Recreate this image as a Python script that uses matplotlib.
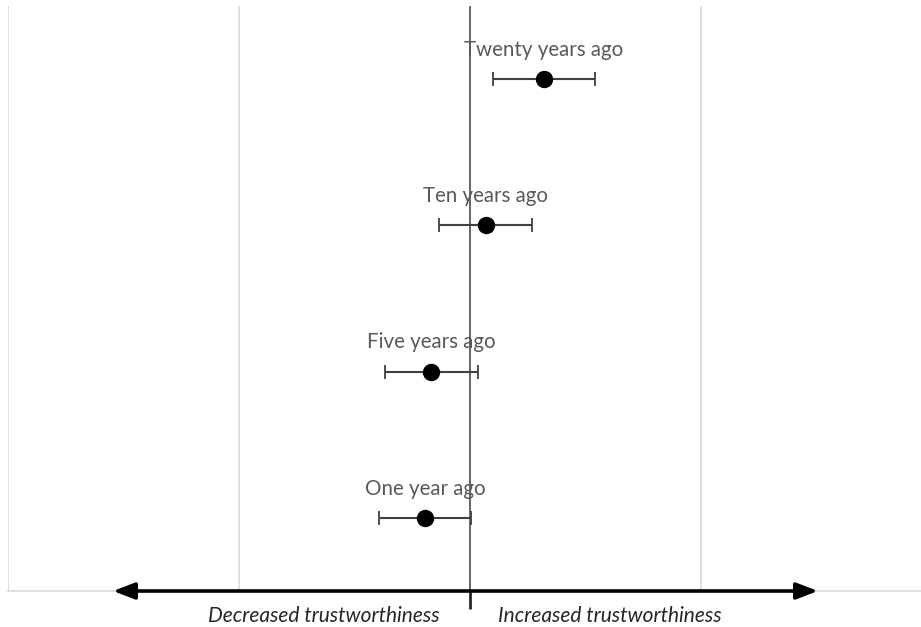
import matplotlib
matplotlib.use("Agg")
import matplotlib.pyplot as plt

# ── Data ───────────────────────────────────────────────────────────────────────
labels = ["Twenty years ago", "Ten years ago", "Five years ago", "One year ago"]
positions = [4, 3, 2, 1]
estimates = [0.32, 0.069, -0.169, -0.195]
ci_low = [0.10, -0.134, -0.368, -0.394]
ci_high = [0.541, 0.268, 0.035, 0.004]

FONT = "Lato"
C_TEXT = "#595959"
C_GRID = "#d9d9d9"

fig = plt.figure(figsize=(9.21, 6.27), dpi=100)
ax = fig.add_axes([8 / 921, 36 / 627, 924 / 921, 585 / 627])
ax.set_xlim(-2, 2)
ax.set_ylim(0.5, 4.5)

for s in ["top", "right", "left"]:
    ax.spines[s].set_visible(False)
ax.spines["bottom"].set_color(C_GRID)
ax.spines["bottom"].set_linewidth(1.2)

for gx in [-2, -1, 1, 2]:
    ax.axvline(gx, color=C_GRID, lw=1.2, zorder=1)
ax.axvline(0, color="#595959", lw=1.3, zorder=2)

ax.set_yticks([])
ax.set_xticks([0])
ax.set_xticklabels([""])
ax.tick_params(axis="x", direction="out", length=13, width=2, color="#262626")

# error bars + points
xerr = [[e - lo for e, lo in zip(estimates, ci_low)],
        [hi - e for e, hi in zip(estimates, ci_high)]]
ax.errorbar(estimates, positions, xerr=xerr, fmt="none", ecolor="#404040",
            elinewidth=1.5, capsize=5, capthick=1.3, zorder=3)
ax.plot(estimates, positions, "o", color="black", markersize=11.5, zorder=4)

# labels sit under the centre line, as in the original
for lab, x, y in zip(labels, estimates, positions):
    ax.annotate(lab, (x, y), xytext=(0, 21), textcoords="offset points",
                ha="center", va="center", fontsize=14.8, color=C_TEXT,
                family=FONT, zorder=1.5)

# direction arrow along the bottom
ax.annotate("", xy=(1.506, 0.5), xytext=(-1.545, 0.5),
            arrowprops=dict(arrowstyle="<|-|>,head_length=1.3,head_width=0.5",
                            color="black", lw=2.6, shrinkA=0, shrinkB=0),
            annotation_clip=False, zorder=6)

ax.annotate("Decreased trustworthiness", (0, 0.5), xytext=(-22, -18),
            textcoords="offset points", ha="right", va="center",
            fontsize=15, fontstyle="italic", color="#262626", family=FONT,
            annotation_clip=False)
ax.annotate("Increased trustworthiness", (0, 0.5), xytext=(20, -18),
            textcoords="offset points", ha="left", va="center",
            fontsize=15, fontstyle="italic", color="#262626", family=FONT,
            annotation_clip=False)

fig.savefig("out.png", dpi=100, facecolor="white")
